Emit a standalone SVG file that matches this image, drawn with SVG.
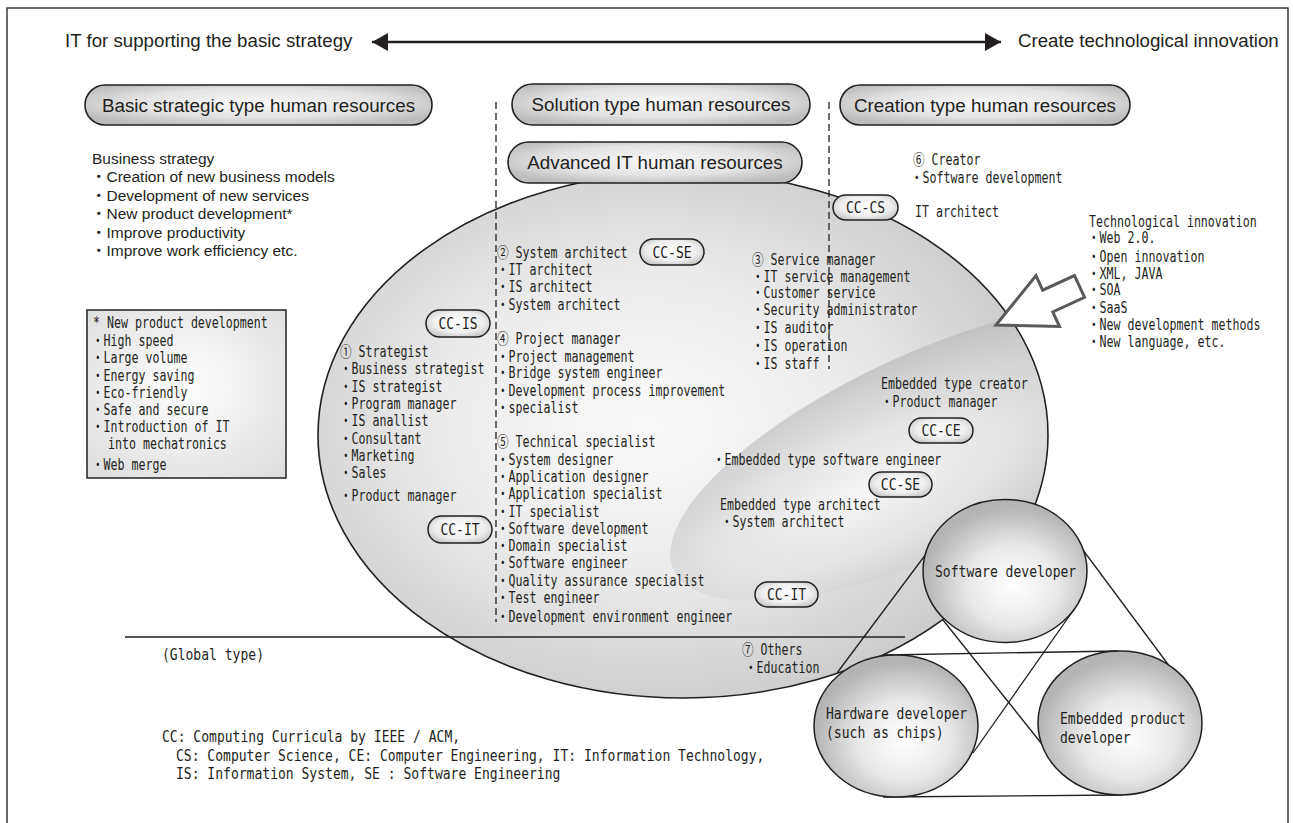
<svg xmlns="http://www.w3.org/2000/svg" width="1293" height="823" viewBox="0 0 1293 823">
<style>
text{fill:#231f20}
.h{font-family:"Liberation Sans",Arial,sans-serif;font-size:18.7px}
.p{font-family:"Liberation Sans",Arial,sans-serif;font-size:18.8px;text-anchor:middle}
.s{font-family:"Liberation Sans",Arial,"Noto Sans CJK JP",sans-serif;font-size:15.5px}
.m{font-family:"DejaVu Sans Mono","Noto Sans CJK JP",monospace;font-size:15px;transform-box:fill-box;transform-origin:0 0;transform:scaleX(.775)}
.m2{font-family:"DejaVu Sans Mono","Noto Sans CJK JP",monospace;font-size:16.3px;transform-box:fill-box;transform-origin:0 0;transform:scaleX(.8)}
.mc{font-family:"DejaVu Sans Mono","Noto Sans CJK JP",monospace;font-size:16.3px;text-anchor:middle;transform-box:fill-box;transform-origin:50% 50%;transform:scaleX(.8)}
.bp{fill:url(#gP);stroke:#231f20;stroke-width:1.6}
.sp{fill:url(#gS);stroke:#231f20;stroke-width:1.5}
.ci{fill:url(#gC);stroke:#231f20;stroke-width:1.5}
.ln{stroke:#231f20;stroke-width:1.3;fill:none}
.dash{stroke:#231f20;stroke-width:1.3;stroke-dasharray:7 4;fill:none}
</style>
<defs>
<radialGradient id="gE" cx="45%" cy="48%" r="58%"><stop offset="0" stop-color="#fafafa"/><stop offset=".5" stop-color="#ebebeb"/><stop offset="1" stop-color="#c8c8c8"/></radialGradient>
<radialGradient id="gI" cx="36%" cy="55%" r="60%"><stop offset="0" stop-color="#f6f6f6"/><stop offset=".45" stop-color="#e4e4e4"/><stop offset=".8" stop-color="#d0d0d0"/><stop offset="1" stop-color="#c2c2c2"/></radialGradient>
<radialGradient id="gC" cx="55%" cy="60%" r="55%"><stop offset="0" stop-color="#ffffff"/><stop offset=".5" stop-color="#e9e9e9"/><stop offset="1" stop-color="#b4b4b4"/></radialGradient>
<radialGradient id="gP" cx="50%" cy="45%" r="60%"><stop offset="0" stop-color="#f8f8f8"/><stop offset=".6" stop-color="#e3e3e3"/><stop offset="1" stop-color="#bcbcbc"/></radialGradient>
<radialGradient id="gS" cx="50%" cy="45%" r="60%"><stop offset="0" stop-color="#ffffff"/><stop offset=".65" stop-color="#eeeeee"/><stop offset="1" stop-color="#c6c6c6"/></radialGradient>
<radialGradient id="gB" cx="50%" cy="45%" r="70%"><stop offset="0" stop-color="#ffffff"/><stop offset="1" stop-color="#dedede"/></radialGradient>
<clipPath id="clipE"><ellipse cx="683" cy="435" rx="364" ry="262"/></clipPath>
<marker id="ah" viewBox="0 0 16 18" refX="16" refY="9" markerWidth="16" markerHeight="18" markerUnits="userSpaceOnUse" orient="auto-start-reverse"><path d="M0,0 L16,9 L0,18 z" fill="#231f20"/></marker>
</defs>
<rect width="1293" height="823" fill="#fff"/>
<path id="frame" d="M7,826 V8 H1288 V826" fill="none" stroke="#3a3a3a" stroke-width="1.5"/>

<g id="header">
<text class="h" x="65" y="47">IT for supporting the basic strategy</text>
<text class="h" x="1018" y="47">Create technological innovation</text>
</g>

<g id="advanced-area">
<ellipse cx="683" cy="435" rx="365" ry="263" fill="url(#gE)" stroke="#231f20" stroke-width="1.6"/>
<g clip-path="url(#clipE)"><ellipse cx="932" cy="452" rx="284" ry="100" transform="rotate(-24.5 932 452)" fill="url(#gI)"/></g>
</g>

<g id="guides">
<line class="dash" x1="496" y1="102" x2="496" y2="622"/>
<line class="dash" x1="829" y1="102" x2="829" y2="369"/>
<line class="ln" x1="125" y1="637" x2="905" y2="637" stroke-width="1.6"/>
</g>

<g id="connectors">
<line x1="372" y1="42" x2="1001" y2="42" stroke="#231f20" stroke-width="2.6" marker-start="url(#ah)" marker-end="url(#ah)"/>
<line class="ln" x1="837" y1="673" x2="926" y2="554"/>
<line class="ln" x1="1083" y1="550" x2="1170" y2="667"/>
<line class="ln" x1="943" y1="620" x2="1045" y2="748"/>
<line class="ln" x1="1075" y1="608" x2="973" y2="753"/>
<line class="ln" x1="885" y1="655" x2="1118" y2="651"/>
<line class="ln" x1="883" y1="797" x2="1122" y2="795"/>
</g>

<g id="pill-basic"><rect class="bp" x="85" y="85" width="347" height="40" rx="20"/><text class="p" x="258.5" y="111.5">Basic strategic type human resources</text></g>
<g id="pill-solution"><rect class="bp" x="512" y="84" width="298" height="41" rx="20.5"/><text class="p" x="661" y="111">Solution type human resources</text></g>
<g id="pill-advanced"><rect class="bp" x="508" y="142" width="294" height="41" rx="20.5"/><text class="p" x="655" y="169">Advanced IT human resources</text></g>
<g id="pill-creation"><rect class="bp" x="840" y="85" width="290" height="40" rx="20"/><text class="p" x="985" y="111.5">Creation type human resources</text></g>

<g id="business-strategy">
<text class="s" x="92" y="163.5">Business strategy</text>
<text class="s" x="91" y="182">・Creation of new business models</text>
<text class="s" x="91" y="200.5">・Development of new services</text>
<text class="s" x="91" y="219">・New product development*</text>
<text class="s" x="91" y="237.5">・Improve productivity</text>
<text class="s" x="91" y="256">・Improve work efficiency etc.</text>
</g>

<g id="product-box">
<rect x="87" y="310" width="199" height="168" fill="url(#gB)" stroke="#231f20" stroke-width="1.5"/>
<text class="m" x="93" y="328">* New product development</text>
<text class="m" x="92" y="346">・High speed</text>
<text class="m" x="92" y="363">・Large volume</text>
<text class="m" x="92" y="381">・Energy saving</text>
<text class="m" x="92" y="398">・Eco-friendly</text>
<text class="m" x="92" y="415">・Safe and secure</text>
<text class="m" x="92" y="432">・Introduction of IT</text>
<text class="m" x="108" y="449">into mechatronics</text>
<text class="m" x="92" y="470">・Web merge</text>
</g>

<g id="strategist">
<text class="m" x="340" y="357">① Strategist</text>
<text class="m" x="340" y="374">・Business strategist</text>
<text class="m" x="340" y="392">・IS strategist</text>
<text class="m" x="340" y="409">・Program manager</text>
<text class="m" x="340" y="426">・IS anallist</text>
<text class="m" x="340" y="444">・Consultant</text>
<text class="m" x="340" y="461">・Marketing</text>
<text class="m" x="340" y="478">・Sales</text>
<text class="m" x="340" y="501">・Product manager</text>
</g>

<g id="system-architect">
<text class="m" x="497" y="258">② System architect</text>
<text class="m" x="497" y="275">・IT architect</text>
<text class="m" x="497" y="292">・IS architect</text>
<text class="m" x="497" y="310">・System architect</text>
</g>
<g id="project-manager">
<text class="m" x="497" y="344">④ Project manager</text>
<text class="m" x="497" y="362">・Project management</text>
<text class="m" x="497" y="378">・Bridge system engineer</text>
<text class="m" x="497" y="396">・Development process improvement</text>
<text class="m" x="497" y="413">・specialist</text>
</g>
<g id="technical-specialist">
<text class="m" x="497" y="447">⑤ Technical specialist</text>
<text class="m" x="497" y="465">・System designer</text>
<text class="m" x="497" y="482">・Application designer</text>
<text class="m" x="497" y="499">・Application specialist</text>
<text class="m" x="497" y="517">・IT specialist</text>
<text class="m" x="497" y="534">・Software development</text>
<text class="m" x="497" y="551">・Domain specialist</text>
<text class="m" x="497" y="568">・Software engineer</text>
<text class="m" x="497" y="586">・Quality assurance specialist</text>
<text class="m" x="497" y="603">・Test engineer</text>
<text class="m" x="497" y="622">・Development environment engineer</text>
</g>
<g id="service-manager">
<text class="m" x="752" y="265">③ Service manager</text>
<text class="m" x="752" y="282">・IT service management</text>
<text class="m" x="752" y="298">・Customer service</text>
<text class="m" x="752" y="315">・Security administrator</text>
<text class="m" x="752" y="333">・IS auditor</text>
<text class="m" x="752" y="351">・IS operation</text>
<text class="m" x="752" y="369">・IS staff</text>
</g>
<g id="creator">
<text class="m" x="913" y="165">⑥ Creator</text>
<text class="m" x="911" y="183">・Software development</text>
<text class="m" x="915" y="217">IT architect</text>
</g>
<g id="tech-innovation">
<text class="m" x="1089" y="227">Technological innovation</text>
<text class="m" x="1088" y="243">・Web 2.0.</text>
<text class="m" x="1088" y="262">・Open innovation</text>
<text class="m" x="1088" y="279">・XML, JAVA</text>
<text class="m" x="1088" y="295">・SOA</text>
<text class="m" x="1088" y="313">・SaaS</text>
<text class="m" x="1088" y="330">・New development methods</text>
<text class="m" x="1088" y="347">・New language, etc.</text>
<polygon points="0,0 57,-28 57,-12 92,-12 92,12 57,12 57,28" transform="translate(996 325) rotate(-24.8)" fill="#fff" stroke="#5a5a5a" stroke-width="3"/>
</g>
<g id="embedded">
<text class="m" x="881" y="389">Embedded type creator</text>
<text class="m" x="881" y="407">・Product manager</text>
<text class="m" x="713" y="465">・Embedded type software engineer</text>
<text class="m" x="720" y="510">Embedded type architect</text>
<text class="m" x="721" y="527">・System architect</text>
</g>
<g id="others">
<text class="m" x="742" y="655">⑦ Others</text>
<text class="m" x="745" y="673">・Education</text>
</g>

<g id="cc-is"><rect class="sp" x="426" y="310" width="64" height="27" rx="13.5"/><text class="mc" x="458" y="329.5">CC-IS</text></g>
<g id="cc-it-1"><rect class="sp" x="428" y="516" width="64" height="27" rx="13.5"/><text class="mc" x="460" y="535.5">CC-IT</text></g>
<g id="cc-se-1"><rect class="sp" x="640" y="239" width="64" height="26" rx="13"/><text class="mc" x="672" y="258">CC-SE</text></g>
<g id="cc-cs"><rect class="sp" x="833" y="195" width="65" height="25" rx="12.5"/><text class="mc" x="865.5" y="213.5">CC-CS</text></g>
<g id="cc-ce"><rect class="sp" x="909" y="418" width="64" height="25" rx="12.5"/><text class="mc" x="941" y="436.5">CC-CE</text></g>
<g id="cc-se-2"><rect class="sp" x="869" y="472" width="63" height="25" rx="12.5"/><text class="mc" x="900.5" y="490.5">CC-SE</text></g>
<g id="cc-it-2"><rect class="sp" x="755" y="582" width="63" height="25" rx="12.5"/><text class="mc" x="786.5" y="600.5">CC-IT</text></g>

<g id="software-developer"><ellipse class="ci" cx="1005" cy="571" rx="82" ry="71.5"/><text class="m2" x="935" y="577">Software developer</text></g>
<g id="hardware-developer"><ellipse class="ci" cx="896" cy="726" rx="82" ry="71"/><text class="m2" x="826" y="719">Hardware developer</text><text class="m2" x="826" y="738">(such as chips)</text></g>
<g id="embedded-product-developer"><ellipse class="ci" cx="1120" cy="723" rx="82" ry="72"/><text class="m2" x="1060" y="724">Embedded product</text><text class="m2" x="1060" y="743">developer</text></g>

<g id="legend">
<text class="m2" x="162" y="660">(Global type)</text>
<text class="m2" x="162" y="742">CC: Computing Curricula by IEEE / ACM,</text>
<text class="m2" x="176" y="761">CS: Computer Science, CE: Computer Engineering, IT: Information Technology,</text>
<text class="m2" x="176" y="779">IS: Information System, SE : Software Engineering</text>
</g>
</svg>
